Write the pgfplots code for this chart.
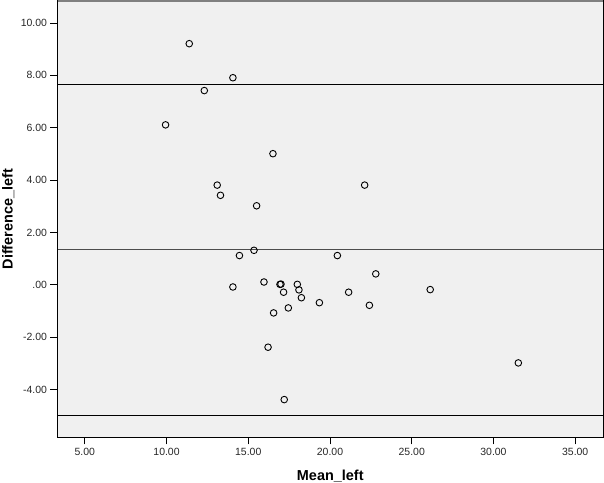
\documentclass[border=0pt]{standalone}
\usepackage{pgfplots}
\pgfplotsset{compat=1.18}
\usepackage{fontspec}
\setmainfont{Liberation Sans}
\definecolor{plotbg}{HTML}{F0F0F0}
\begin{document}
\begin{tikzpicture}
\useasboundingbox (0,0) rectangle (604bp,483bp);
\begin{axis}[
  at={(57.5bp,45.7bp)}, anchor=south west,
  scale only axis, width=545.5bp, height=436.3bp,
  xmin=3.33, xmax=36.7, ymin=-5.82, ymax=10.84,
  axis background/.style={fill=plotbg},
  axis line style={black, line width=1bp},
  xtick={5,10,15,20,25,30,35},
  xticklabels={5.00,10.00,15.00,20.00,25.00,30.00,35.00},
  ytick={-4,-2,0,2,4,6,8,10},
  yticklabels={-4.00,-2.00,.00,2.00,4.00,6.00,8.00,10.00},
  xtick pos=bottom, ytick pos=left,
  tick align=outside, major tick length=7bp,
  tick style={black, line width=0.9bp},
  tick label style={font=\fontsize{10.5}{12}\selectfont, text=black!85},
  xlabel={Mean\_left}, ylabel={Difference\_left},
  xlabel style={at={(axis description cs:0.5,-0.0979)}, anchor=base, font=\fontsize{14.5}{16}\selectfont\bfseries},
  ylabel style={at={(axis description cs:-0.0821,0.5)}, anchor=base, rotate=0, font=\fontsize{14.5}{16}\selectfont\bfseries},
  clip=false,
]
\addplot[black, line width=1bp, forget plot] coordinates {(3.33,7.66) (36.7,7.66)};
\addplot[black!70, line width=1bp, forget plot] coordinates {(3.33,1.34) (36.7,1.34)};
\addplot[black, line width=1bp, forget plot] coordinates {(3.33,-4.98) (36.7,-4.98)};
\addplot[only marks, mark=o, mark size=3.3bp, mark options={black, line width=0.9bp}] coordinates {
(11.39,9.21) (14.06,7.91) (12.31,7.42) (9.94,6.11) (16.51,5.01)
(13.10,3.81) (13.30,3.42) (15.51,3.02) (22.12,3.81) (15.35,1.32)
(14.46,1.12) (20.45,1.12) (22.80,0.42) (14.06,-0.08) (15.96,0.11)
(16.94,0.02) (17.00,0.03) (18.00,0.02) (17.16,-0.28) (18.10,-0.19)
(18.25,-0.49) (21.14,-0.28) (19.35,-0.68) (17.45,-0.88) (22.41,-0.78)
(16.55,-1.07) (16.21,-2.38) (26.13,-0.18) (31.52,-2.98) (17.20,-4.38)
};
\draw[color=black!50, line width=2bp] (rel axis cs:0,1) -- (rel axis cs:1,1);
\end{axis}
\end{tikzpicture}
\end{document}
